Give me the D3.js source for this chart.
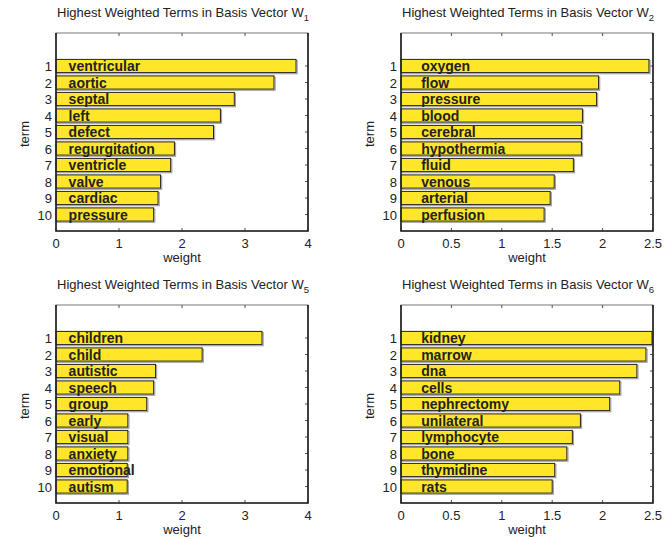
<!DOCTYPE html>
<html>
<head>
<meta charset="utf-8">
<script src="https://cdn.jsdelivr.net/npm/d3@7"></script>
<style>
  body { margin: 0; background: #fff; }
  svg { font-family: "Liberation Sans", Arial, sans-serif; }
</style>
</head>
<body>
<svg id="chart" width="668" height="539"></svg>
<script>
// panel data, term 1 at the top
var terms1 = ["ventricular","aortic","septal","left","defect","regurgitation","ventricle","valve","cardiac","pressure"]
var weights1 = [3.81, 3.46, 2.83, 2.61, 2.50, 1.88, 1.82, 1.66, 1.62, 1.55]

var terms2 = ["oxygen","flow","pressure","blood","cerebral","hypothermia","fluid","venous","arterial","perfusion"]
var weights2 = [2.46, 1.96, 1.94, 1.80, 1.79, 1.79, 1.71, 1.52, 1.48, 1.42]

var terms5 = ["children","child","autistic","speech","group","early","visual","anxiety","emotional","autism"]
var weights5 = [3.27, 2.32, 1.58, 1.55, 1.44, 1.14, 1.14, 1.14, 1.13, 1.13]

var terms6 = ["kidney","marrow","dna","cells","nephrectomy","unilateral","lymphocyte","bone","thymidine","rats"]
var weights6 = [2.49, 2.43, 2.34, 2.17, 2.07, 1.78, 1.70, 1.645, 1.525, 1.50]

var ticks4 = [0, 1, 2, 3, 4]
var ticks25 = [0, 0.5, 1, 1.5, 2, 2.5]
var rankTicks = [1,2,3,4,5,6,7,8,9,10]

var panels = [
  {sub: "1", terms: terms1, weights: weights1, xmax: 4,   xticks: ticks4,  left: 56,  top: 33},
  {sub: "2", terms: terms2, weights: weights2, xmax: 2.5, xticks: ticks25, left: 401, top: 33},
  {sub: "5", terms: terms5, weights: weights5, xmax: 4,   xticks: ticks4,  left: 56,  top: 305},
  {sub: "6", terms: terms6, weights: weights6, xmax: 2.5, xticks: ticks25, left: 401, top: 305}
]

var plotW = 252, plotH = 198
var tickLen = 3
var yellow = "#ffe629"
var ink = "#222"

var svg = d3.select("#chart")

panels.forEach(function(p) {
  var g = svg.append("g").attr("transform", "translate(" + p.left + "," + p.top + ")")

  var x = d3.scaleLinear().domain([0, p.xmax]).range([0, plotW])
  var y = d3.scaleLinear().domain([-1, 11]).range([0, plotH])
  var bandH = y(0.8) - y(0)

  var data = p.terms.map(function(t, i) { return {term: t, w: p.weights[i], rank: i + 1} })

  // inward ticks on all four sides
  g.selectAll(".xtb").data(p.xticks).enter().append("line")
    .attr("x1", function(d) { return x(d) }).attr("x2", function(d) { return x(d) })
    .attr("y1", plotH).attr("y2", plotH - tickLen)
    .attr("stroke", ink).attr("stroke-width", 0.8)
  g.selectAll(".xtt").data(p.xticks).enter().append("line")
    .attr("x1", function(d) { return x(d) }).attr("x2", function(d) { return x(d) })
    .attr("y1", 0).attr("y2", tickLen)
    .attr("stroke", ink).attr("stroke-width", 0.8)
  g.selectAll(".ytr").data(rankTicks).enter().append("line")
    .attr("x1", plotW).attr("x2", plotW - tickLen)
    .attr("y1", function(d) { return y(d) }).attr("y2", function(d) { return y(d) })
    .attr("stroke", ink).attr("stroke-width", 0.8)

  // bars with a faint grey shadow
  g.selectAll(".shadow").data(data).enter().append("rect")
    .attr("x", 1.2)
    .attr("y", function(d) { return y(d.rank - 0.4) + 1.2 })
    .attr("width", function(d) { return x(d.w) })
    .attr("height", bandH)
    .attr("fill", "none").attr("stroke", "#9a9a9a").attr("stroke-width", 1)
  g.selectAll(".bar").data(data).enter().append("rect")
    .attr("x", 0)
    .attr("y", function(d) { return y(d.rank - 0.4) })
    .attr("width", function(d) { return x(d.w) })
    .attr("height", bandH)
    .attr("fill", yellow).attr("stroke", ink).attr("stroke-width", 1)

  g.selectAll(".term").data(data).enter().append("text")
    .attr("x", x(0.2))
    .attr("y", function(d) { return y(d.rank) + 5 })
    .attr("font-size", "14px").attr("font-weight", "bold").attr("fill", ink)
    .text(function(d) { return d.term })

  // box
  g.append("rect").attr("width", plotW).attr("height", plotH)
    .attr("fill", "none").attr("stroke", "#555").attr("stroke-width", 0.8)
  g.append("path")
    .attr("d", "M0,0V" + plotH + "H" + plotW + "V0")
    .attr("fill", "none").attr("stroke", ink).attr("stroke-width", 1.6)

  // tick labels
  g.selectAll(".xl").data(p.xticks).enter().append("text")
    .attr("x", function(d) { return x(d) }).attr("y", plotH + 17)
    .attr("text-anchor", "middle").attr("font-size", "13px").attr("fill", ink)
    .text(function(d) { return d })
  g.selectAll(".yl").data(rankTicks).enter().append("text")
    .attr("x", -4).attr("y", function(d) { return y(d) + 5 })
    .attr("text-anchor", "end").attr("font-size", "13px").attr("fill", ink)
    .text(function(d) { return d })

  // axis titles
  g.append("text").attr("x", plotW / 2).attr("y", plotH + 31)
    .attr("text-anchor", "middle").attr("font-size", "13px").attr("fill", ink)
    .text("weight")
  g.append("text")
    .attr("transform", "translate(" + (-27) + "," + (plotH / 2 + 2) + ") rotate(-90)")
    .attr("text-anchor", "middle").attr("font-size", "13px").attr("fill", ink)
    .text("term")

  // title with subscript
  var title = g.append("text").attr("x", plotW / 2 + 1).attr("y", -16)
    .attr("text-anchor", "middle").attr("font-size", "13px").attr("fill", ink)
  title.append("tspan").text("Highest Weighted Terms in Basis Vector W")
  title.append("tspan").attr("dy", 4).attr("font-size", "9.5px").text(p.sub)
})
</script>
</body>
</html>
